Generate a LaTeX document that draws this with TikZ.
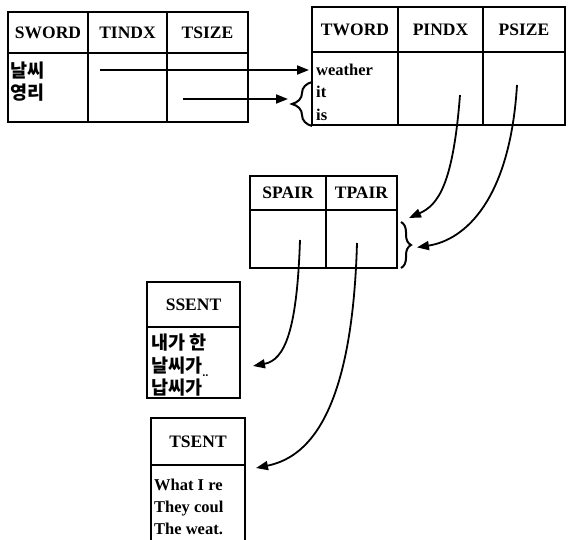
\documentclass[tikz,border=0pt]{standalone}
\usepackage{fontspec}
\setmainfont{Liberation Serif}
\newfontfamily\korfont{Noto Sans CJK KR}
\usetikzlibrary{arrows.meta,decorations.pathreplacing}

\tikzset{
  cell/.style={draw, line width=2.2pt, outer sep=0pt, inner sep=0pt, anchor=north west},
  hd/.style={cell, font=\fontsize{17.5}{20}\selectfont\bfseries},
  word/.style={inner sep=0pt, anchor=base west, font=\fontsize{16.5}{18}\selectfont\bfseries},
  kword/.style={inner sep=0pt, anchor=base west, font=\fontsize{18.5}{20}\selectfont\korfont\bfseries},
  link/.style={line width=1.8pt, -{Triangle[length=12pt,width=9pt]}},
  grp/.style={line width=2pt, decorate, decoration={brace, amplitude=#1}},
}

\begin{document}
\begin{tikzpicture}[x=1pt, y=-1pt]
  \useasboundingbox (0,0) rectangle (568,539);

  % source word table
  \node[hd, minimum width=80pt, minimum height=41pt] (sword) at (8,12) {SWORD};
  \node[hd, minimum width=79pt, minimum height=41pt] (tindx) at (sword.north east) {TINDX};
  \node[hd, minimum width=81pt, minimum height=41pt] (tsize) at (tindx.north east) {TSIZE};
  \node[cell, minimum width=80pt, minimum height=69pt] (swordb) at (sword.south west) {};
  \node[cell, minimum width=79pt, minimum height=69pt] (tindxb) at (tindx.south west) {};
  \node[cell, minimum width=81pt, minimum height=69pt] (tsizeb) at (tsize.south west) {};
  \node[kword] (nalssi) at (10,77) {날씨};
  \node[kword] (yeongri) at (10,99) {영리};

  % target word table
  \node[hd, minimum width=86pt, minimum height=45pt] (tword) at (312,7) {TWORD};
  \node[hd, minimum width=85pt, minimum height=45pt] (pindx) at (tword.north east) {PINDX};
  \node[hd, minimum width=82pt, minimum height=45pt] (psize) at (pindx.north east) {PSIZE};
  \node[cell, minimum width=86pt, minimum height=73pt] (twordb) at (tword.south west) {};
  \node[cell, minimum width=85pt, minimum height=73pt] (pindxb) at (pindx.south west) {};
  \node[cell, minimum width=82pt, minimum height=73pt] (psizeb) at (psize.south west) {};
  \node[word] (weather) at (316,75) {weather};
  \node[word] (it) at (316,97.5) {it};
  \node[word] (is) at (316,120) {is};

  % pair table
  \node[hd, minimum width=76pt, minimum height=34pt] (spair) at (250,176) {SPAIR};
  \node[hd, minimum width=71pt, minimum height=34pt] (tpair) at (spair.north east) {TPAIR};
  \node[cell, minimum width=76pt, minimum height=58pt] (spairb) at (spair.south west) {};
  \node[cell, minimum width=71pt, minimum height=58pt] (tpairb) at (tpair.south west) {};

  % sentence tables
  \node[hd, minimum width=93pt, minimum height=45pt] (ssent) at (147,282) {SSENT};
  \node[cell, minimum width=93pt, minimum height=71pt] (ssentb) at (ssent.south west) {};
  \node[kword] (ks1) at (151,349) {내가 한};
  \node[kword] (ks2) at (151,372) {날씨가\raisebox{-4pt}{\fontsize{9}{9}\selectfont ..}};
  \node[kword] (ks3) at (151,394) {납씨가};

  \node[hd, minimum width=94pt, minimum height=47pt] (tsent) at (151,418) {TSENT};
  \node[cell, minimum width=94pt, minimum height=90pt] (tsentb) at (tsent.south west) {};
  \node[word] (es1) at (154,490) {What I re};
  \node[word] (es2) at (154,512) {They coul};
  \node[word] (es3) at (154,534) {The weat.};

  % braces
  \draw[grp=20pt] ([yshift=-74pt]twordb.north west) -- ([yshift=-30pt]twordb.north west);
  \draw[grp=10pt] ([xshift=4pt,yshift=-12pt]tpairb.north east) -- ([xshift=4pt]tpairb.south east);
  \coordinate (g1) at (290,99);
  \coordinate (g2) at (413,248);

  % pointers
  \coordinate (s1) at (100,70);
  \coordinate (s2) at (183,99);
  \coordinate (p1) at (460,95);
  \coordinate (p2) at (517,85);
  \coordinate (q1) at (300,240);
  \coordinate (q2) at (357,243);
  \draw[link, shorten >=3pt] (s1) -- (s1 -| twordb.west);
  \draw[link, shorten >=2pt] (s2) -- (g1);
  \draw[link] (p1) .. controls (453,185) and (438,205) .. (409,218);
  \draw[link, shorten >=4pt] (p2) .. controls (510,200) and (465,240) .. (g2);
  \draw[link] (q1) .. controls (297,330) and (285,360) .. (253,366);
  \draw[link] (q2) .. controls (352,420) and (305,458) .. (256,468);
\end{tikzpicture}
\end{document}
